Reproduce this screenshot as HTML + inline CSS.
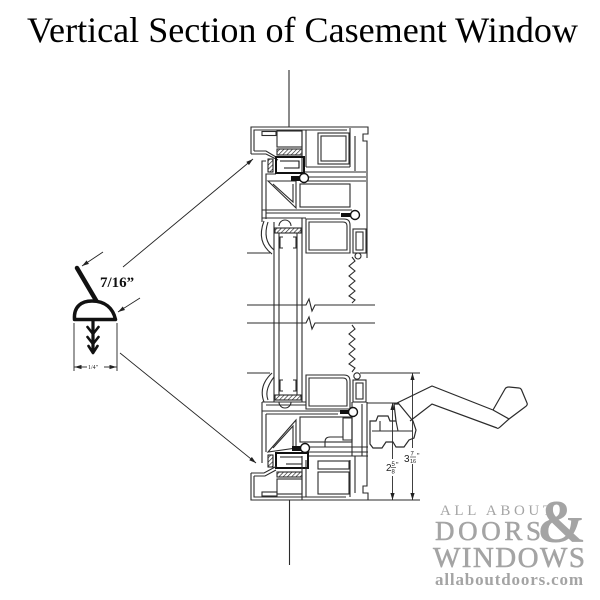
<!DOCTYPE html>
<html><head><meta charset="utf-8">
<style>
html,body{margin:0;padding:0;background:#fff;}
svg{display:block;}
</style></head>
<body>
<svg width="600" height="600" viewBox="0 0 600 600" xmlns="http://www.w3.org/2000/svg">
<defs>
<pattern id="h" width="3" height="3" patternUnits="userSpaceOnUse" patternTransform="rotate(45)">
<line x1="0" y1="0" x2="0" y2="3" stroke="#222" stroke-width="1.3"/>
</pattern>
<marker id="ar" viewBox="0 0 10 6" refX="10" refY="3" markerWidth="7" markerHeight="4.5" orient="auto" markerUnits="userSpaceOnUse">
<path d="M0,0 L10,3 L0,6 Z" fill="#222"/>
</marker>
</defs>
<rect width="600" height="600" fill="#fff"/>

<text x="27" y="42" font-family="'Liberation Serif', serif" font-size="36" fill="#000" textLength="551" lengthAdjust="spacingAndGlyphs">Vertical Section of Casement Window</text>

<g fill="none" stroke="#2b2b2b" stroke-width="1.1">
<!-- rods -->
<line x1="289" y1="70" x2="289" y2="127"/>
<line x1="289.5" y1="500" x2="289.5" y2="565"/>

<!-- ===== TOP FRAME ===== -->
<path d="M251,154 V127 H368 V134 H363 V141 H367 V258"/>
<path d="M254,151 V130 H347"/>
<path d="M251,154 H266 L278,160"/>
<path d="M254,151 H266 L276,157"/>
<rect x="262" y="131.5" width="14" height="4"/>
<rect x="277" y="131" width="25" height="16"/>
<rect x="277" y="149" width="25" height="6" fill="url(#h)"/>
<path d="M302,130 V172 M306,130 V167"/>
<rect x="318" y="133" width="31" height="31"/>
<rect x="321" y="136" width="25" height="25"/>
<path d="M350,128 V167 M355,136 V171"/>
<path d="M306,167 H350 M304,172 H366"/>

<!-- top sash -->
<path d="M262,222 V161 H266"/>
<path d="M266,219 V174 H276"/>
<rect x="276" y="157" width="28" height="16" stroke="#111" stroke-width="2"/>
<path d="M280,161 H299 V168 H284" stroke="#111"/>
<path d="M300,177 H366 M308,181 H366"/>
<path d="M268,181 L296,208 V181 Z"/>
<path d="M273,184 L293,202 V184"/>
<rect x="300" y="184" width="50" height="23"/>
<path d="M262,210 H352 M266,213 H340"/>
<path d="M306,219 H344 Q350,219 350,225 V253 H306 Z"/>
<path d="M309,222 H343 Q347,222 347,226 V250 H309 Z"/>
<rect x="353" y="229" width="13" height="24"/>
<rect x="356" y="232" width="7" height="18"/>
<circle cx="358" cy="256" r="3"/>
<path d="M262,218 H306"/>
<path d="M279,226 A6,6 0 0 1 291,226"/>
<path d="M264,221 Q256,242 272,254"/>
<path d="M268,222 Q262,240 274,250"/>
<line x1="247" y1="253" x2="270" y2="253"/>

<!-- glass -->
<line x1="274" y1="222" x2="274" y2="402"/>
<line x1="302" y1="218" x2="302" y2="402"/>
<line x1="279" y1="233" x2="279" y2="395"/>
<line x1="297" y1="233" x2="297" y2="395"/>
<rect x="275" y="228" width="26" height="5" fill="url(#h)"/>
<rect x="275" y="395" width="26" height="5" fill="url(#h)"/>
<path d="M283,237 H280 V248 H283 M293,237 H296 V248 H293"/>
<path d="M283,380 H280 V391 H283 M293,380 H296 V391 H293"/>

<!-- break lines -->
<path d="M247,305 H306 L309,299 L312,311 L315,305 H375"/>
<path d="M247,323 H306 L309,317 L312,329 L315,323 H375"/>
<polyline points="352,257 355,261 349,266 355,271 349,276 355,281 349,286 355,291 349,296 355,300 352,303"/>
<polyline points="352,325 355,329 349,334 355,339 349,344 355,349 349,354 355,359 349,364 355,368 352,372"/>

<!-- ===== BOTTOM SASH ===== -->
<line x1="247" y1="373" x2="270" y2="373"/>
<path d="M272,373 Q258,386 264,402"/>
<path d="M274,377 Q264,390 268,400"/>
<path d="M262,402 H306 M266,405 H306"/>
<path d="M279,402 A6,6 0 0 0 291,402"/>
<path d="M306,375 H344 Q350,375 350,381 V409 H306 Z"/>
<path d="M309,378 H343 Q347,378 347,382 V406 H309 Z"/>
<rect x="353" y="380" width="13" height="22"/>
<rect x="356" y="383" width="7" height="16"/>
<circle cx="357" cy="376" r="3.2"/>
<path d="M262,411 H340 M266,414 H338"/>
<rect x="300" y="417" width="52" height="25"/>
<path d="M268,452 L296,420 V448 Z"/>
<path d="M273,448 L293,426 V446"/>
<path d="M262,402 V463 M266,414 V452"/>
<path d="M300,447 H368 M308,452 H368 M308,456 H368"/>
<rect x="276" y="453" width="32" height="15" stroke="#111" stroke-width="2"/>
<path d="M280,457 H302 V464 H286" stroke="#111"/>

<!-- bottom frame -->
<path d="M251,473 H264 L277,466 M251,473 V500 H368 V493 H363 V486 H367 V402"/>
<path d="M254,476 V497 H346"/>
<path d="M254,476 H265 L276,470"/>
<rect x="262" y="492" width="15" height="4"/>
<rect x="277" y="472" width="25" height="5" fill="url(#h)"/>
<rect x="277" y="479" width="25" height="15"/>
<path d="M302,456 V500 M306,460 V497"/>
<rect x="318" y="461" width="31" height="8"/>
<rect x="318" y="472" width="31" height="22"/>
<path d="M350,460 V497 M355,456 V493"/>
<path d="M352,402 V456 M362,404 V456"/>
<path d="M325,447 V442 Q325,437 330,437 H343"/>
<path d="M343,418 H352 V440 H343 Z"/>

<!-- operator body -->
<path d="M370,421 H376 L378,416 H388 L390,421 H396 L394,404 H399 L413,421 L416,430 L414,438 L409,440 L404,447 L396,447 L393,442 H386 L382,448 H373 L370,444 Z" stroke-width="1.2"/>
<path d="M372,431 H413 M380,421 V431 M396,421 L398,431"/>
<!-- handle -->
<path d="M397,403 L432,386 L493,410" stroke-width="1.2"/>
<path d="M410,421 L432,404 L497,428" stroke-width="1.2"/>
<path d="M493,410 L505,389 Q506,387 509,387 L519,388 Q521,388 522,391 L527,403 Q528,405 525,407 L509,419 L500,427 Q498,429 497,428" stroke-width="1.2"/>
<path d="M493,410 L509,419" stroke-width="1.2"/>

<!-- dimension lines -->
<path d="M360,373 H420 M367,403 H399 M368,500 H420" stroke-width="0.9"/>
<line x1="412.5" y1="448" x2="412.5" y2="373" marker-end="url(#ar)" stroke-width="0.9"/>
<line x1="412.5" y1="464" x2="412.5" y2="500" marker-end="url(#ar)" stroke-width="0.9"/>
<line x1="392.5" y1="459" x2="392.5" y2="403" marker-end="url(#ar)" stroke-width="0.9"/>
<line x1="392.5" y1="476" x2="392.5" y2="500" marker-end="url(#ar)" stroke-width="0.9"/>
</g>

<!-- bolts -->
<g stroke="#111" stroke-width="1.4">
<rect x="291" y="176" width="9" height="5" fill="#111" stroke="none"/>
<circle cx="304" cy="178" r="4.5" fill="#fff"/>
<rect x="341" y="213" width="10" height="4" fill="#111" stroke="none"/>
<circle cx="355" cy="215" r="4.5" fill="#fff"/>
<rect x="340" y="410" width="10" height="4" fill="#111" stroke="none"/>
<circle cx="353" cy="412" r="4.5" fill="#fff"/>
<rect x="292" y="446" width="9" height="5" fill="#111" stroke="none"/>
<circle cx="305" cy="448" r="4.5" fill="#fff"/>
</g>
<!-- small weatherstrips in frame -->
<rect x="268" y="159" width="5" height="13" fill="url(#h)" stroke="#111" stroke-width="1"/>
<rect x="268" y="455" width="5" height="12" fill="url(#h)" stroke="#111" stroke-width="1"/>

<!-- dimension text -->
<g font-family="'Liberation Sans', sans-serif" fill="#222">
<text x="404" y="462" font-size="10">3</text>
<text x="410.5" y="455.5" font-size="6">7</text>
<line x1="410" y1="457" x2="416" y2="457" stroke="#222" stroke-width="0.6"/>
<text x="410" y="463" font-size="5.5">16</text>
<text x="417" y="458" font-size="7">"</text>
<text x="386" y="471" font-size="10">2</text>
<text x="391.5" y="466" font-size="6">5</text>
<line x1="391" y1="467.5" x2="396" y2="467.5" stroke="#222" stroke-width="0.6"/>
<text x="391.5" y="473.5" font-size="6">8</text>
<text x="396" y="467" font-size="7">"</text>
</g>

<!-- ===== LEFT DETAIL ===== -->
<g fill="none" stroke="#222" stroke-width="0.9">
<line x1="123" y1="267" x2="253" y2="159" marker-end="url(#ar)"/>
<line x1="103" y1="252" x2="82" y2="266" marker-end="url(#ar)"/>
<line x1="140" y1="298" x2="118" y2="312" marker-end="url(#ar)"/>
<line x1="120" y1="353" x2="256" y2="463" marker-end="url(#ar)"/>
<line x1="74" y1="323" x2="74" y2="371"/>
<line x1="117" y1="323" x2="117" y2="371"/>
<line x1="87" y1="367" x2="74.5" y2="367" marker-end="url(#ar)"/>
<line x1="104" y1="367" x2="116.5" y2="367" marker-end="url(#ar)"/>
</g>
<text x="88" y="369" font-family="'Liberation Serif', serif" font-size="6" fill="#222">1/4"</text>
<text x="100" y="287" font-family="'Liberation Serif', serif" font-size="15" font-weight="bold" fill="#111">7/16”</text>

<!-- weatherstrip profile -->
<g fill="none" stroke="#111" stroke-linecap="round" stroke-linejoin="round">
<path d="M77,268 L97,302" stroke-width="4.5"/>
<path d="M74.5,319.5 C73.5,306 82,301 92,301 C105,301 113,308 115.5,319.5 Z" stroke-width="3.5" fill="#fff"/>
<path d="M93,321 V352" stroke-width="3.2"/>
<path d="M87.5,327 L93,334 L98.5,327" stroke-width="2.6"/>
<path d="M87.5,337 L93,344 L98.5,337" stroke-width="2.6"/>
<path d="M88.5,346 L93,353 L97.5,346" stroke-width="2.6"/>
</g>

<!-- ===== LOGO ===== -->
<g font-family="'Liberation Serif', serif" fill="#a4a4a4">
<text x="440" y="515" font-size="15" textLength="112" lengthAdjust="spacing">ALL ABOUT</text>
<text x="435" y="540" font-size="27" textLength="106" lengthAdjust="spacing" stroke="#a4a4a4" stroke-width="0.5">DOORS</text>
<text x="537" y="542" font-size="60" font-weight="bold" textLength="49" lengthAdjust="spacingAndGlyphs">&amp;</text>
<text x="433" y="567" font-size="29" textLength="152" lengthAdjust="spacing" stroke="#a4a4a4" stroke-width="0.5">WINDOWS</text>
<text x="435" y="585" font-size="17" font-weight="bold" textLength="148" lengthAdjust="spacing">allaboutdoors.com</text>
</g>
</svg>
</body></html>
